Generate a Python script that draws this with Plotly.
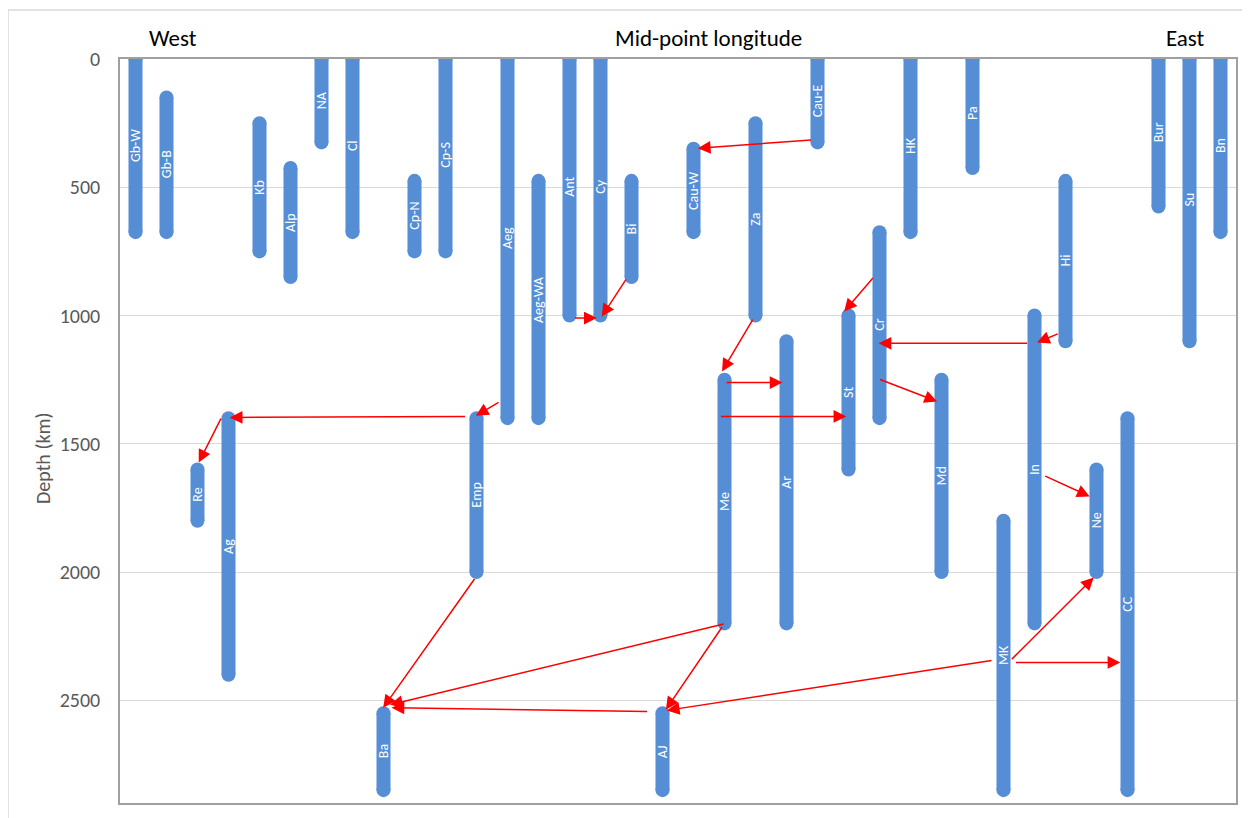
import plotly.graph_objects as go

# Slab names in west-to-east order (category positions 1..36)
names = ["Gb-W", "Gb-B", "Re", "Ag", "Kb", "Alp", "NA", "Cl", "Ba", "Cp-N", "Cp-S", "Emp",
         "Aeg", "Aeg-WA", "Ant", "Cy", "Bi", "AJ", "Cau-W", "Me", "Za", "Ar", "Cau-E", "St",
         "Cr", "HK", "Md", "Pa", "MK", "In", "Hi", "Ne", "CC", "Bur", "Su", "Bn"]
top_depth = [0, 150, 1600, 1400, 250, 425, 0, 0, 2550, 475, 0, 1400,
             0, 475, 0, 0, 475, 2550, 350, 1250, 250, 1100, 0, 1000,
             675, 0, 1250, 0, 1800, 1000, 475, 1600, 1400, 0, 0, 0]
bottom_depth = [675, 675, 1800, 2400, 750, 850, 325, 675, 2850, 750, 750, 2000,
                1400, 1400, 1000, 1000, 850, 2850, 675, 2200, 1000, 2200, 325, 1600,
                1400, 675, 2000, 425, 2850, 2200, 1100, 2000, 2850, 575, 1100, 675]

# Red arrows: tail (x0, d0) -> head (x1, d1), x in category-position units, d in km
arrow_x0 = [22.84, 15.13, 16.85, 12.76, 11.68, 3.78, 11.97, 20.02, 17.55, 19.95, 28.66,
            20.94, 20.02, 19.84, 24.83, 29.81, 30.80, 24.97, 30.30, 29.22, 29.35]
arrow_d0 = [315, 1010, 854, 1335, 1393, 1396, 2021, 2201, 2543, 2209, 2344,
            1010, 1261, 1393, 848, 1108, 1069, 1247, 1623, 2345, 2352]
arrow_x1 = [19.14, 15.88, 16.04, 11.98, 4.04, 3.04, 8.99, 9.21, 9.26, 18.11, 18.14,
            19.92, 21.87, 23.93, 23.86, 24.97, 30.08, 26.86, 31.78, 31.91, 32.77]
arrow_d1 = [348, 1010, 1004, 1391, 1397, 1573, 2529, 2517, 2529, 2536, 2539,
            1218, 1261, 1393, 984, 1108, 1105, 1335, 1705, 2021, 2352]

y_ticks = [0, 500, 1000, 1500, 2000, 2500]

BAR = "#558ED5"
FONT = "Calibri, Carlito, Lato, 'Open Sans', sans-serif"

positions = list(range(1, len(names) + 1))

fig = go.Figure()

# bar bodies
lx, ly = [], []
for p, t, b in zip(positions, top_depth, bottom_depth):
    lx += [p, p, None]
    ly += [t, b, None]
fig.add_trace(go.Scatter(x=lx, y=ly, mode="lines",
                         line=dict(color=BAR, width=14), hoverinfo="skip",
                         showlegend=False))
# rounded ends
fig.add_trace(go.Scatter(x=positions + positions, y=top_depth + bottom_depth,
                         mode="markers",
                         marker=dict(color=BAR, size=14, line=dict(width=0)),
                         hoverinfo="skip", showlegend=False))

annotations = []
for p, t, b, n in zip(positions, top_depth, bottom_depth, names):
    annotations.append(dict(x=p, y=(t + b) / 2, xref="x", yref="y", text=n,
                            showarrow=False, textangle=-90,
                            font=dict(family=FONT, size=14, color="white")))

for x0, d0, x1, d1 in zip(arrow_x0, arrow_d0, arrow_x1, arrow_d1):
    annotations.append(dict(x=x1, y=d1, ax=x0, ay=d0, xref="x", yref="y",
                            axref="x", ayref="y", text="", showarrow=True,
                            arrowhead=2, arrowsize=1.7, arrowwidth=1.5,
                            arrowcolor="#FF0000", standoff=0, startstandoff=0))

# page is offset by the browser's 8px body margin; work in page pixels
OFF = 8
W, H = 1250 - OFF, 818 - OFF
L, T = 120 - OFF, 59 - OFF
PR, PB = 1236 - OFF, 803 - OFF
pw, ph = PR - L, PB - T


def px(xp):
    return (xp - OFF - L) / pw


def py(yp):
    return (PB - (yp - OFF)) / ph


header = [("West", 173, 38, 23, "black", 0),
          ("Mid-point longitude", 708, 38, 23, "black", 0),
          ("East", 1185, 38, 23, "black", 0),
          ("Depth (km)", 43, 458, 20, "#595959", -90)]
for txt, xp_, yp_, sz, col, ang in header:
    annotations.append(dict(x=px(xp_), y=py(yp_), xref="paper", yref="paper", text=txt,
                            showarrow=False, xanchor="center", yanchor="middle",
                            textangle=ang, font=dict(family=FONT, size=sz, color=col)))

fig.update_layout(
    width=W, height=H,
    margin=dict(l=L, r=W - PR, t=T, b=H - PB, autoexpand=False),
    paper_bgcolor="white", plot_bgcolor="white",
    annotations=annotations,
    shapes=[dict(type="rect", xref="paper", yref="paper",
                 x0=px(8), x1=px(1270), y0=py(840), y1=py(10),
                 line=dict(color="#D9D9D9", width=1.5), layer="below")],
    xaxis=dict(range=[0.5, 36.5], showgrid=False, zeroline=False, showticklabels=False,
               ticks="", showline=True, mirror=True, linecolor="#A0A0A0", linewidth=1.5),
    yaxis=dict(range=[2900, 0], tickvals=y_ticks, showgrid=True, gridcolor="#D9D9D9",
               gridwidth=1, zeroline=False, showline=True, mirror=True,
               linecolor="#A0A0A0", linewidth=1.5, ticks="", ticklen=0,
               ticklabelstandoff=14,
               tickfont=dict(family=FONT, size=20, color="#595959")),
)

fig.write_html("out.html")
